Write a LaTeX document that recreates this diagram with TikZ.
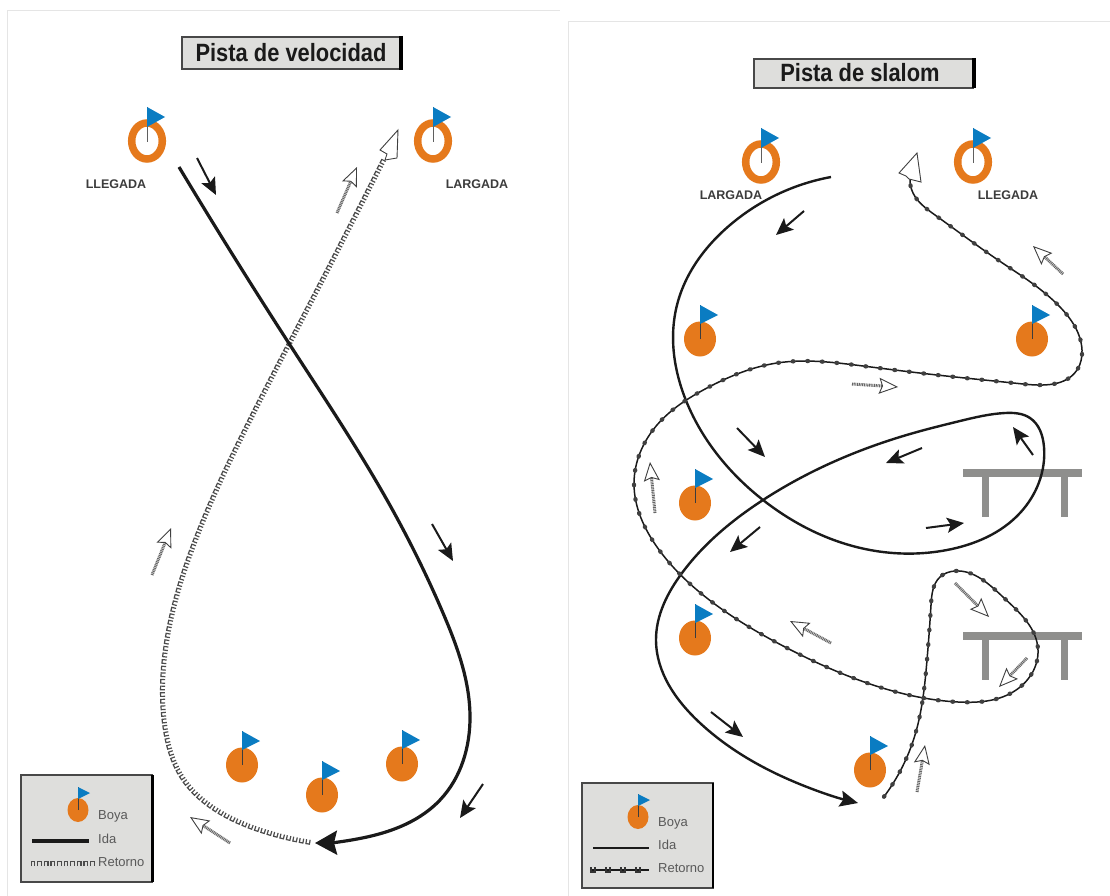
\documentclass[tikz,border=0pt]{standalone}
\usepackage{fontspec}
\setmainfont{Liberation Sans}
\usetikzlibrary{arrows.meta,decorations.markings,hobby}
\definecolor{buoy}{HTML}{E5791C}
\definecolor{flagblue}{HTML}{0A7CC2}
\definecolor{panel}{HTML}{DEDEDC}
\definecolor{bench}{HTML}{8F8F8D}
\definecolor{ink}{HTML}{1A1A1A}
\tikzset{
  x=1pt,y=-1pt,
  titlebox/.style={draw=ink!80,line width=1.2pt,fill=panel},
  edgebar/.style={line width=4pt,draw=black},
  titletext/.style={font=\bfseries\fontsize{25}{27}\selectfont,text=ink,inner sep=0pt,xscale=.875,transform shape},
  marktext/.style={font=\bfseries\fontsize{12.5}{14}\selectfont,text=ink!85,inner sep=0pt},
  legendtext/.style={font=\fontsize{13}{15}\selectfont,text=black!65,inner sep=0pt,anchor=west},
  idaline/.style={draw=ink,line width=3.2pt},
  idaright/.style={draw=ink,line width=2.4pt},
  minihead/.style={-{Stealth[length=17pt,width=15pt,inset=3.5pt]},draw=ink,line width=2pt},
  openhead/.style={-{Stealth[length=19pt,width=16pt,inset=3pt,fill=white,color=black!75,line width=.9pt]},draw=black!60,line width=3pt,dash pattern=on 1pt off .7pt},
  ulane/.style={postaction={decorate,decoration={markings,mark=between positions 2pt and -2pt step 6.6pt with {
     \draw[black!70,line width=1.2pt] (-1.8pt,-2.2pt)--(-1.8pt,2.2pt)--(1.8pt,2.2pt)--(1.8pt,-2.2pt);}}}},
  dotlane/.style={draw=ink,line width=1.5pt,postaction={decorate,decoration={markings,mark=between positions 2pt and -2pt step 14.6pt with {
     \fill[black!75] (0,0) ellipse (2.6pt and 2.2pt);}}}},
  benchbar/.style={fill=bench,draw=none},
  ring/.pic={
    \draw[buoy,line width=7.5pt] (0,0) ellipse (15.3 and 18);
    \draw[ink!70,line width=.9pt] (0,1)--(0,-34);
    \fill[flagblue] (0,-34)--(18,-24)--(0,-14)--cycle;},
  solidbuoy/.pic={
    \fill[buoy] (0,0) ellipse (16 and 17.5);
    \draw[ink!85,line width=1pt] (0,0)--(0,-34);
    \fill[flagblue] (0,-34)--(18,-24)--(0,-15)--cycle;},
  legendbuoy/.pic={
    \fill[buoy] (0,0) ellipse (10.5 and 12);
    \draw[ink!85,line width=1pt] (0,0)--(0,-23);
    \fill[flagblue] (0,-23)--(12,-17)--(0,-11)--cycle;},
}
\begin{document}
\begin{tikzpicture}[use Hobby shortcut]
\useasboundingbox (0,0) rectangle (1110,896);
\fill[white] (0,0) rectangle (1110,896);
% faint page edges
\draw[black!10,line width=1pt] (7,896)--(7,11)--(560,11);
\draw[black!10,line width=1pt] (568,896)--(568,22)--(1110,22);

% ---------- left panel ----------
\draw[titlebox] (182,37) rectangle (400,69);
\draw[edgebar] (401,36)--(401,70);
\node[titletext] (titleA) at (291,53) {Pista de velocidad};
\pic at (147,141) {ring};
\pic at (433,141) {ring};
\node[marktext] (llegadaA) at (116,184) {LLEGADA};
\node[marktext] (largadaA) at (477,184) {LARGADA};
\pic at (242,765) {solidbuoy};
\pic at (322,795) {solidbuoy};
\pic at (402,764) {solidbuoy};

% retorno (left)
\path[ulane] (310,842) .. (267,832) .. (217,810) .. (183,778) .. (165,725) .. (164,665) .. (197,537) .. (257,407) .. (314,297) .. (384,160);
\draw[line width=.9pt,draw=black!75,fill=white] (398,130)--(380,150)--(387,154)--(385,160)--(397,158)--cycle;
% ida (left)
\draw[idaline,-{Stealth[length=22pt,width=24pt,inset=3pt]}] (179,167) .. (290,345) .. (387,500) .. (443,613) .. (470,717) .. (440,800) .. (367,837) .. (315,843);

% ---------- legends ----------
\draw[line width=1.2pt,draw=ink!80,fill=panel] (21,775) rectangle (152,882);
\draw[line width=2.4pt,draw=black] (152.5,775)--(152.5,882);
\pic at (78,810) {legendbuoy};
\node[legendtext] (boyaA) at (98,816) {Boya};
\node[legendtext] (idaA) at (98,839) {Ida};
\node[legendtext] (retA) at (98,862) {Retorno};
\coordinate (lA1) at (32,841); \coordinate (lA2) at (89,841);
\draw[idaline] (lA1)--(lA2);
\coordinate (lA3) at (31,864); \coordinate (lA4) at (96,864);
\path[ulane] (lA3)--(lA4);

\draw[line width=1.2pt,draw=ink!80,fill=panel] (582,783) rectangle (713,888);
\draw[line width=2.4pt,draw=black] (713,783)--(713,888);
\pic at (638,817) {legendbuoy};
\node[legendtext] (boyaB) at (658,823) {Boya};
\node[legendtext] (idaB) at (658,845) {Ida};
\node[legendtext] (retB) at (658,868) {Retorno};
\coordinate (lB1) at (593,848); \coordinate (lB2) at (649,848);
\draw[idaright] (lB1)--(lB2);
\coordinate (lB3) at (592,870); \coordinate (lB4) at (649,870);
\draw[draw=ink,line width=1.2pt] (lB3)--(lB4);
\foreach \xx in {593,608,623,638}
  \draw[black!80,line width=1.2pt] (\xx-2,867)--(\xx-2,872)--(\xx+2,872)--(\xx+2,867);

% ---------- right panel ----------
\draw[titlebox] (754,59) rectangle (973,88);
\draw[edgebar] (974,58)--(974,88);
\node[titletext] (titleB) at (860,73) {Pista de slalom};
\pic at (761,162) {ring};
\pic at (973,162) {ring};
\node[marktext] (largadaB) at (731,195) {LARGADA};
\node[marktext] (llegadaB) at (1008,195) {LLEGADA};
\pic at (700,339) {solidbuoy};
\pic at (1032,339) {solidbuoy};
\pic at (695,503) {solidbuoy};
\pic at (695,638) {solidbuoy};
\pic at (870,770) {solidbuoy};

% benches
\fill[benchbar] (963,469) rectangle (1082,477);
\fill[benchbar] (982,477) rectangle (989,517);
\fill[benchbar] (1061,477) rectangle (1068,517);
\fill[benchbar] (963,632) rectangle (1082,640);
\fill[benchbar] (982,640) rectangle (989,680);
\fill[benchbar] (1061,640) rectangle (1068,680);

% ida (right)
\draw[idaright,-{Stealth[length=18pt,width=16pt,inset=3pt]}] (831,177) .. (730,225) .. (677,305) .. (687,403) .. (763,500) .. (870,550) .. (947,550) .. (1020,513) .. (1044,447) .. (1030,418) .. (1005,413) .. (960,421) .. (910,434) .. (763,500) .. (682,573) .. (656,640) .. (700,723) .. (790,780) .. (858,803);

% retorno (right)
\path[dotlane] (883,798) .. (915,735) .. (927,660) .. (931,605) .. (940,577) .. (955,571) .. (1003,597) .. (1038,650) .. (1013,692) .. (958,702) .. (873,685) .. (787,648) .. (712,602) .. (657,547) .. (634,483) .. (657,425) .. (707,388) .. (777,363) .. (863,366) .. (937,375) .. (1023,384) .. (1077,370) .. (1082,350) .. (1060,307) .. (998,260) .. (935,215) .. (913,193) .. (910,178);
\draw[line width=.9pt,draw=black!75,fill=white] (917,153)--(899,173)--(906,176)--(909,179)--(921,182)--cycle;

% ---------- small arrows ----------
\foreach \n/\ax/\ay/\bx/\by in {
 a/197/158/216/195, b/432/524/453/561, c/483/784/460/818,
 d/804/211/776/235, e/737/428/765/457, f/922/448/886/463, g/1033/455/1013/427,
 h/926/528/964/523, i/760/527/730/552, j/711/712/743/737}{
  \coordinate (s\n) at (\ax,\ay); \coordinate (t\n) at (\bx,\by);
  \draw[minihead] (s\n)--(t\n);
}
\foreach \n/\ax/\ay/\bx/\by in {
 k/337/213/357/167, l/152/575/171/528, m/230/843/190/817,
 o/1063/274/1033/246, p/852/384/898/387, q/655/513/650/462, r/831/643/790/621,
 u/955/583/989/617, v/1027/658/999/687, w/917/792/925/745}{
  \coordinate (s\n) at (\ax,\ay); \coordinate (t\n) at (\bx,\by);
  \draw[openhead] (s\n)--(t\n);
}
\end{tikzpicture}
\end{document}
